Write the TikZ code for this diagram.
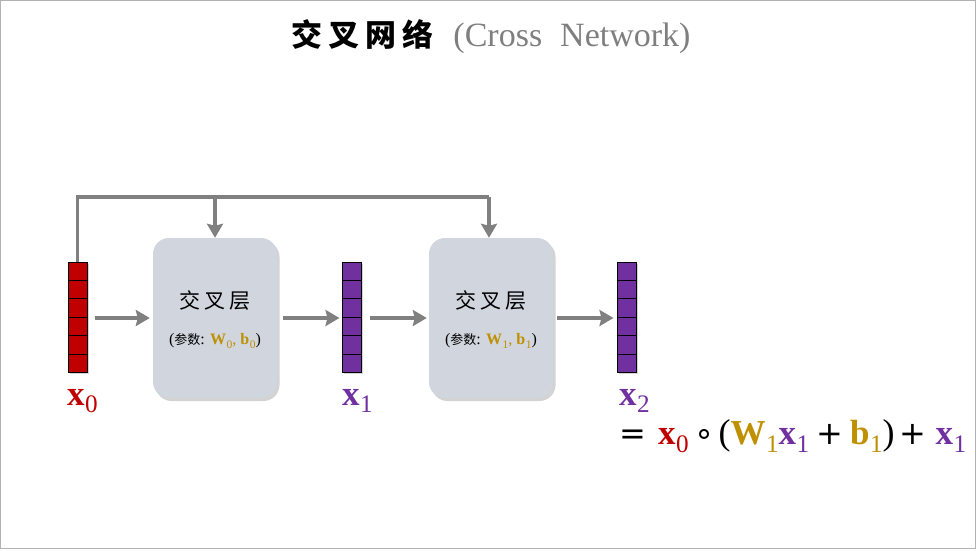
\documentclass[tikz,border=0pt]{standalone}
\usepackage{graphicx}
\usepackage{fontspec}
\setmainfont{Liberation Serif}
\newfontfamily\cjk{Noto Sans CJK SC}
\newfontfamily\djs{DejaVu Sans}
\usetikzlibrary{arrows.meta,shadows,calc}
\definecolor{vred}{HTML}{C00000}
\definecolor{vpurple}{HTML}{7030A0}
\definecolor{vgold}{HTML}{BF9000}
\definecolor{agray}{HTML}{808080}
\definecolor{boxfill}{HTML}{D0D5DE}
\definecolor{titlegray}{HTML}{7F7F7F}
\newcommand\bsub[2]{\textbf{#1}\kern0.5pt\raisebox{-0.22em}{\scalebox{0.72}{#2}}}
\newcommand\opsym[1]{{\djs\fontsize{32}{34}\selectfont #1}}
\tikzset{
  vecbox/.style={draw=black, line width=1pt, minimum width=19pt, minimum height=110pt, inner sep=0pt,
    drop shadow={shadow xshift=2pt, shadow yshift=-2pt, opacity=0.35}},
  layerbox/.style={fill=boxfill, rounded corners=16pt, minimum width=124pt, minimum height=160pt, inner sep=0pt,
    drop shadow={shadow xshift=2.5pt, shadow yshift=-3pt, opacity=0.35}},
  flow/.style={draw=agray, line width=3.5pt, -{Stealth[length=14pt,width=16pt,inset=2pt]}},
  lbl/.style={font=\fontsize{35}{40}\selectfont, inner sep=0pt},
}
\begin{document}
\begin{tikzpicture}[x=1pt,y=-1pt]
\useasboundingbox (0,0) rectangle (979,551);
\draw[draw=gray!60, line width=0.8pt] (0.5,0.5) rectangle (975.5,548.5);

% title
\node[inner sep=0pt] (title) at (491,37) {{\cjk\bfseries\fontsize{31}{36}\selectfont 交\hspace{6pt}叉\hspace{6pt}网\hspace{6pt}络}\hspace{20pt}{\color{titlegray}\fontsize{34}{38}\selectfont (Cross\hspace{18pt}Network)}};

% vectors
\node[vecbox, fill=vred] (x0v) at (77.5,317) {};
\node[vecbox, fill=vpurple] (x1v) at (351.5,317) {};
\node[vecbox, fill=vpurple] (x2v) at (626.5,317) {};
\foreach \v in {x0v,x1v,x2v}{
  \foreach \k in {1,...,5}{
    \draw[line width=1pt] ($(\v.north west)!\k/6!(\v.south west)$) -- ($(\v.north east)!\k/6!(\v.south east)$);
  }
}

% layer boxes
\node[layerbox] (L1) at (215,318) {};
\node[layerbox] (L2) at (491,318) {};
\node[inner sep=0pt] (L1t) at (215,301) {\cjk\fontsize{21}{24}\selectfont 交\hspace{4pt}叉\hspace{4pt}层};
\node[inner sep=0pt] (L1p) at (215,341) {\fontsize{16}{18}\selectfont ({\cjk\fontsize{13}{15}\selectfont 参数}: {\color{vgold}\bsub{W}{0}, \bsub{b}{0}})};
\node[inner sep=0pt] (L2t) at (491,301) {\cjk\fontsize{21}{24}\selectfont 交\hspace{4pt}叉\hspace{4pt}层};
\node[inner sep=0pt] (L2p) at (491,341) {\fontsize{16}{18}\selectfont ({\cjk\fontsize{13}{15}\selectfont 参数}: {\color{vgold}\bsub{W}{1}, \bsub{b}{1}})};

% flow arrows
\draw[flow] ([xshift=7pt]x0v.east |- 0,318) -- ([xshift=-3pt]L1.west |- 0,318);
\draw[flow] ([xshift=6pt]L1.east |- 0,318) -- ([xshift=-2pt]x1v.west |- 0,318);
\draw[flow] ([xshift=8pt]x1v.east |- 0,318) -- ([xshift=-2pt]L2.west |- 0,318);
\draw[flow] ([xshift=4pt]L2.east |- 0,318) -- ([xshift=-3pt]x2v.west |- 0,318);

% skip connection
\coordinate (top0) at (77.5,197);
\coordinate (top2) at (489,197);
\coordinate (top1) at (215,197);
\draw[draw=agray, line width=3.5pt] (x0v.north) -- (top0) -- (top2);
\draw[flow] (top2) -- (L2.north -| top2);
\draw[flow] (top1) -- (L1.north);

% labels
\node[lbl, anchor=west] (x0l) at (67,401) {\textcolor{vred}{\bsub{x}{0}}};
\node[lbl, anchor=west] (x1l) at (342,401) {\textcolor{vpurple}{\bsub{x}{1}}};
\node[lbl, anchor=west] (x2l) at (619,401) {\textcolor{vpurple}{\bsub{x}{2}}};
\node[lbl, anchor=west] (eq) at (619,436) {\opsym{=}\hspace{12pt}\textcolor{vred}{\bsub{x}{0}}\hspace{6pt}\opsym{∘}\hspace{4pt}{\fontsize{36}{40}\selectfont (}\textcolor{vgold}{\bsub{W}{1}}\textcolor{vpurple}{\bsub{x}{1}}\hspace{7pt}\opsym{+}\hspace{7pt}\textcolor{vgold}{\bsub{b}{1}}{\fontsize{36}{40}\selectfont )}\hspace{5pt}\opsym{+}\hspace{9pt}\textcolor{vpurple}{\bsub{x}{1}}};
\end{tikzpicture}
\end{document}
